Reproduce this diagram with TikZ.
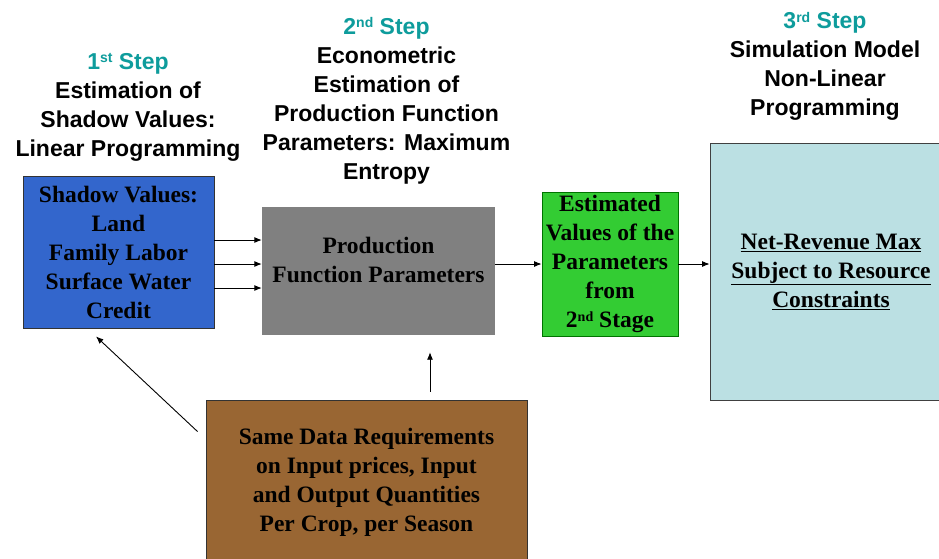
\documentclass[tikz,border=0pt]{standalone}
\usepackage{fontspec}
\setmainfont{Liberation Serif}
\newfontfamily\hsans{Liberation Sans}
\usetikzlibrary{arrows.meta}
\definecolor{cblue}{HTML}{3366CC}
\definecolor{cgray}{HTML}{808080}
\definecolor{cgreen}{HTML}{33CC33}
\definecolor{clb}{HTML}{BBE0E3}
\definecolor{cbrown}{HTML}{996633}
\definecolor{cteal}{HTML}{0E9C9C}
\newcommand{\supx}[1]{\raisebox{0.55ex}{\fontsize{14}{14}\selectfont #1}}
\begin{document}
\begin{tikzpicture}[x=1pt,y=-1pt,
  box/.style={rectangle, inner sep=0pt, align=center,
    font=\bfseries\fontsize{23.5}{29}\selectfont},
  head/.style={align=center, inner sep=0pt,
    font=\hsans\bfseries\fontsize{23}{29}\selectfont},
  arr/.style={-{Latex[length=7.5pt,width=6pt]}, line width=0.9pt}]
\useasboundingbox (0,0) rectangle (939,558);

% headers
\node[head] (h1) at (128,107) {\textcolor{cteal}{1\supx{st} Step}\\Estimation of\\Shadow Values:\\Linear Programming};
\node[head] (h2) at (386.5,101) {\textcolor{cteal}{2\supx{nd} Step}\\Econometric\\Estimation of\\Production Function\\Parameters: Maximum\\Entropy};
\node[head] (h3) at (825,66.5) {\textcolor{cteal}{3\supx{rd} Step}\\Simulation Model\\Non-Linear\\Programming};

% boxes
\node[box, fill=cblue, draw=black!80, line width=0.8pt, minimum width=191pt, minimum height=152pt] (blue) at (118.5,252)
  {Shadow Values:\\Land\\Family Labor\\Surface Water\\Credit};
\node[box, fill=cgray, minimum width=233pt, minimum height=128pt] (gray) at (378.5,271) {};
\node[box] (graytxt) at (378.5,260) {Production\\Function Parameters};
\node[box, fill=cgreen, draw=green!45!black, line width=0.8pt, minimum width=136pt, minimum height=144pt] (green) at (610,264)
  {Estimated\\Values of the\\Parameters\\from\\2\supx{nd} Stage};
\node[box, fill=clb, draw=black!75, line width=0.8pt, minimum width=242pt, minimum height=257pt] (lb) at (831,271.5)
  {\underline{Net-Revenue Max}\\\underline{Subject to Resource}\\\underline{Constraints}};
\node[box, fill=cbrown, draw=black!80, line width=0.8pt, minimum width=321pt, minimum height=164pt] (brown) at (366.5,482)
  {Same Data Requirements\\on Input prices, Input\\and Output Quantities\\Per Crop, per Season};

% connectors
\draw[arr] ([yshift=12pt]blue.east) -- ([yshift=12pt]blue.east -| gray.west);
\draw[arr] ([yshift=-12pt]blue.east) -- ([yshift=-12pt]blue.east -| gray.west);
\draw[arr] ([yshift=-36pt]blue.east) -- ([yshift=-36pt]blue.east -| gray.west);
\draw[arr] ([yshift=7pt]gray.east) -- ([yshift=7pt]gray.east -| green.west);
\draw[arr] (green.east) -- (green.east -| lb.west);
\draw[arr] ([xshift=63.5pt,yshift=8pt]brown.north) -- ([xshift=51.5pt,yshift=-17pt]gray.south);
\draw[arr] ([xshift=-8pt,yshift=-32pt]brown.north west) -- ([xshift=-22.5pt,yshift=-8pt]blue.south);
\end{tikzpicture}
\end{document}
